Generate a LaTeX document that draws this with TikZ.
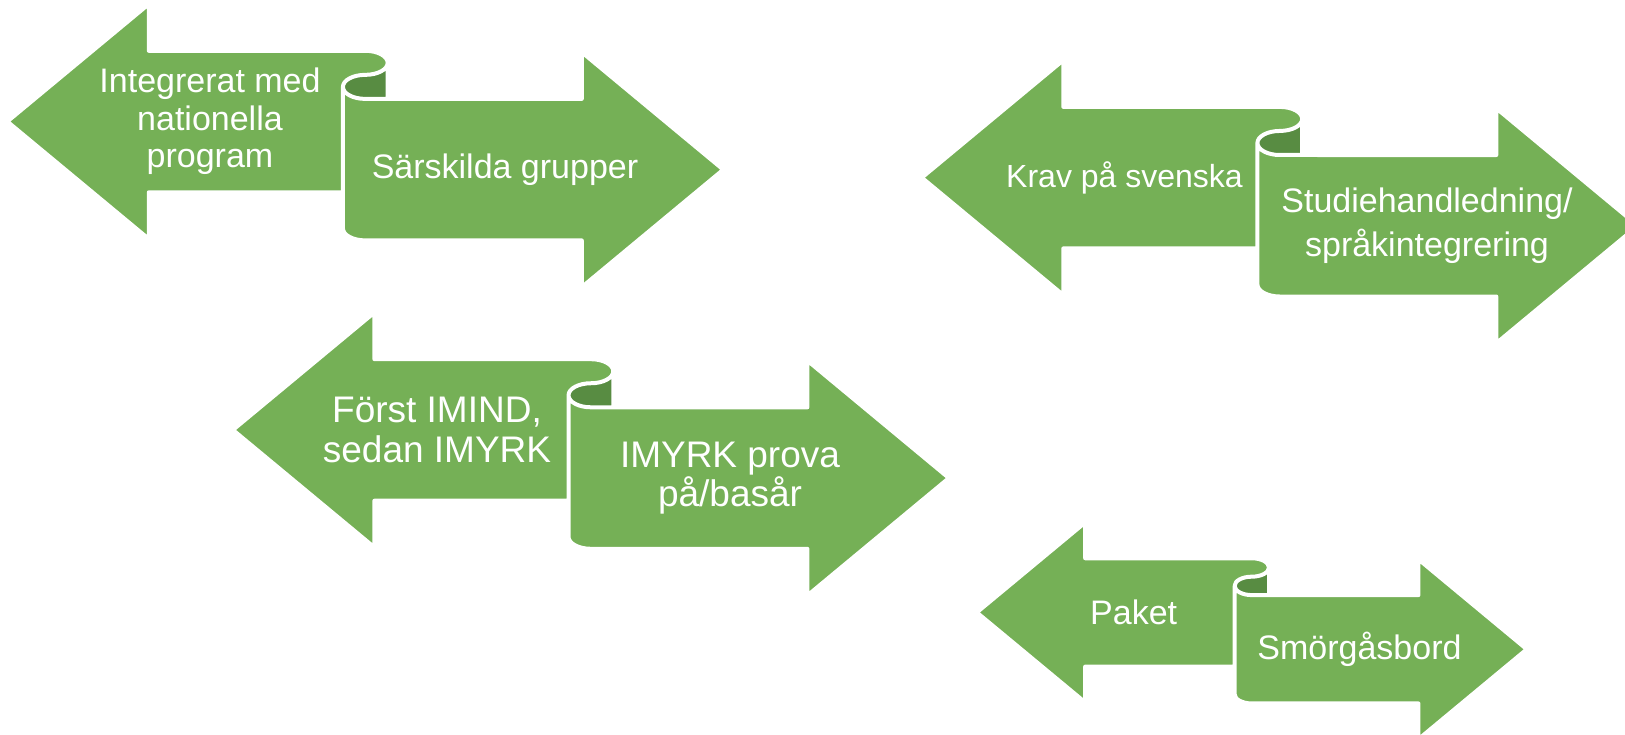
\documentclass[tikz,border=0pt]{standalone}
\usepackage{fontspec}
\setmainfont{Liberation Sans}
\usetikzlibrary{positioning}

\definecolor{ribbongreen}{RGB}{117,176,86}
\definecolor{ribbondarkgreen}{RGB}{88,140,66}

\tikzset{
	ribbonfill/.style={fill=ribbongreen},
	ribbondark/.style={fill=ribbondarkgreen},
	ribbonline/.style={draw=white, line width=3pt, line join=round},
	ribbontext/.style={text=white, align=center, inner sep=0pt},
}

% left/right ribbon: #1 left, #2 top, #3 width, #4 height (pixels, y down)
\newcommand\ribbonpair[4]{%
	\pgfmathsetmacro\rbL{#1}%
	\pgfmathsetmacro\rbT{#2}%
	\pgfmathsetmacro\rbR{#1+#3}%
	\pgfmathsetmacro\rbB{#2+#4}%
	\pgfmathsetmacro\rbXa{#1+0.5*#4}%
	\pgfmathsetmacro\rbXd{#1+#3-0.5*#4}%
	\pgfmathsetmacro\rbHc{#1+#3/2}%
	\pgfmathsetmacro\rbWd{#3/32}%
	\pgfmathsetmacro\rbXb{\rbHc-\rbWd}%
	\pgfmathsetmacro\rbXc{\rbHc+\rbWd}%
	\pgfmathsetmacro\rbHr{0.0425*#4}%
	\pgfmathsetmacro\rbLa{#2+0.165*#4}%
	\pgfmathsetmacro\rbLb{#2+0.415*#4}%
	\pgfmathsetmacro\rbLc{#2+0.665*#4}%
	\pgfmathsetmacro\rbLd{#2+0.83*#4}%
	\pgfmathsetmacro\rbRa{#2+0.17*#4}%
	\pgfmathsetmacro\rbRb{#2+0.335*#4}%
	\pgfmathsetmacro\rbRc{#2+0.585*#4}%
	\pgfmathsetmacro\rbRd{#2+0.835*#4}%
	\pgfmathsetmacro\rbYa{\rbLa+\rbHr}%
	\pgfmathsetmacro\rbYb{\rbLa+3*\rbHr}%
	% body
	\fill[ribbonfill] (\rbL,\rbLb) -- (\rbXa,\rbT) -- (\rbXa,\rbLa) -- (\rbHc,\rbLa)
		arc[start angle=-90, end angle=90, x radius=\rbWd, y radius=\rbHr]
		arc[start angle=-90, end angle=-270, x radius=\rbWd, y radius=\rbHr]
		-- (\rbXd,\rbRb) -- (\rbXd,\rbRa) -- (\rbR,\rbRc) -- (\rbXd,\rbB) -- (\rbXd,\rbRd) -- (\rbHc,\rbRd)
		arc[start angle=90, end angle=180, x radius=\rbWd, y radius=\rbHr]
		-- (\rbXb,\rbLc) -- (\rbXa,\rbLc) -- (\rbXa,\rbLd) -- cycle;
	% curl
	\fill[ribbondark] (\rbXc,\rbYa)
		arc[start angle=0, end angle=90, x radius=\rbWd, y radius=\rbHr]
		arc[start angle=-90, end angle=-270, x radius=\rbWd, y radius=\rbHr]
		-- (\rbXc,\rbRb) -- cycle;
	% outline
	\draw[ribbonline] (\rbL,\rbLb) -- (\rbXa,\rbT) -- (\rbXa,\rbLa) -- (\rbHc,\rbLa)
		arc[start angle=-90, end angle=90, x radius=\rbWd, y radius=\rbHr]
		arc[start angle=-90, end angle=-270, x radius=\rbWd, y radius=\rbHr]
		-- (\rbXd,\rbRb) -- (\rbXd,\rbRa) -- (\rbR,\rbRc) -- (\rbXd,\rbB) -- (\rbXd,\rbRd) -- (\rbHc,\rbRd)
		arc[start angle=90, end angle=180, x radius=\rbWd, y radius=\rbHr]
		-- (\rbXb,\rbLc) -- (\rbXa,\rbLc) -- (\rbXa,\rbLd) -- cycle
		(\rbXc,\rbYa) -- (\rbXc,\rbRb)
		(\rbXb,\rbYb) -- (\rbXb,\rbLc);
}

\begin{document}
\begin{tikzpicture}[x=0.75pt, y=-0.75pt]
		\useasboundingbox (0,0) rectangle (1625,735);
		\clip (0,0) rectangle (1625,735);
		
		%ribbons
		\ribbonpair{7.3}{4.1}{716}{283}
		\ribbonpair{921.8}{60.2}{716}{283}
		\ribbonpair{232.9}{312.5}{716}{283}
		\ribbonpair{976.8}{522.5}{550}{216.7}
		
		%first pair
		\node (integrerat) [ribbontext, font=\fontsize{25.5}{28.1}\selectfont] at (210,121.5) {Integrerat med\\nationella\\program};
		\node (sarskilda) [ribbontext, font=\fontsize{25.5}{28.1}\selectfont] at (505,169.7) {Särskilda grupper};
		
		%second pair
		\node (krav) [ribbontext, font=\fontsize{24}{33}\selectfont] at (1124.5,177.6) {Krav på svenska};
		\node (studie) [ribbontext, font=\fontsize{25.5}{33}\selectfont] at (1427,225.8) {Studiehandledning/\\språkintegrering};
		
		%third pair
		\node (forst) [ribbontext, font=\fontsize{27.75}{29.7}\selectfont] at (437,429.9) {Först IMIND,\\sedan IMYRK};
		\node (imyrk) [ribbontext, font=\fontsize{27.75}{29.7}\selectfont] at (730,478.1) {IMYRK prova\\på/basår};
		
		%fourth pair
		\node (paket) [ribbontext, font=\fontsize{25.5}{28.1}\selectfont] at (1133.7,612.4) {Paket};
		\node (smorgas) [ribbontext, font=\fontsize{25.5}{28.1}\selectfont] at (1359.5,649.3) {Smörgåsbord};
\end{tikzpicture}
\end{document}
